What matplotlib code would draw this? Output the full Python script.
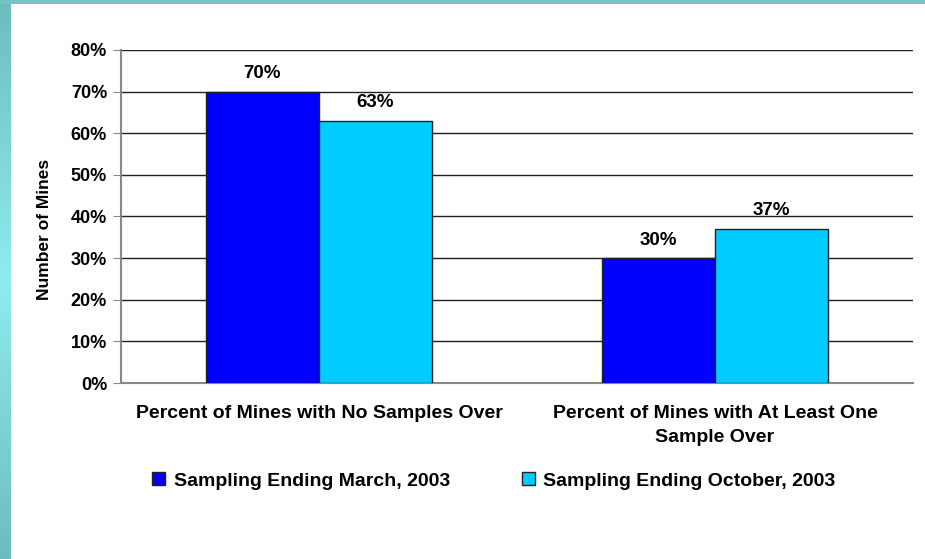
import numpy as np
import matplotlib.pyplot as plt
from matplotlib.ticker import PercentFormatter
from matplotlib.colors import LinearSegmentedColormap

plt.rcParams["font.family"] = ["Liberation Sans", "DejaVu Sans"]
plt.rcParams["font.weight"] = "bold"

categories = ["Percent of Mines with No Samples Over",
              "Percent of Mines with At Least One\nSample Over"]
march = [70, 30]
october = [63, 37]
series_names = ["Sampling Ending March, 2003", "Sampling Ending October, 2003"]

fig = plt.figure(figsize=(9.25, 5.59), dpi=100)
fig.patch.set_facecolor("white")

# teal frame on the left and top edges
grad = np.concatenate([np.linspace(0, 1, 50), np.linspace(1, 0, 50)])[:, None]
cmap = LinearSegmentedColormap.from_list("frame", ["#6dbdbd", "#8eecec"])
strip = fig.add_axes([0, 0, 11 / 925, 1])
strip.imshow(grad, aspect="auto", cmap=cmap, extent=[0, 1, 0, 1])
strip.axis("off")
top = fig.add_axes([0, 1 - 4 / 559, 1, 4 / 559])
top.axis("off")
top.add_patch(plt.Rectangle((0, 0), 1, 1, color="#74c6c6", transform=top.transAxes))

ax = fig.add_axes([121 / 925, 1 - 383 / 559, 792 / 925, 333 / 559])
x = np.arange(len(categories))
w = 1 / 3.5
b1 = ax.bar(x - w / 2, march, w, color="#0000ff", edgecolor="#222222", linewidth=1,
            label=series_names[0], zorder=3)
b2 = ax.bar(x + w / 2, october, w, color="#00ccff", edgecolor="#222222", linewidth=1,
            label=series_names[1], zorder=3)
for bars in (b1, b2):
    for r in bars:
        ax.text(r.get_x() + r.get_width() / 2, r.get_height() + 2.3, f"{r.get_height():.0f}%",
                ha="center", va="bottom", fontsize=13.5, fontweight="bold")

ax.set_xlim(-0.5, 1.5)
ax.set_ylim(0, 80)
ax.set_yticks(range(0, 81, 10))
ax.yaxis.set_major_formatter(PercentFormatter(decimals=0))
ax.grid(axis="y", color="#222222", linewidth=1, zorder=0)
ax.set_xticks(x)
ax.set_xticklabels(categories, fontsize=14, fontweight="bold", linespacing=1.55)
ax.tick_params(axis="x", length=0, pad=16)
ax.tick_params(axis="y", direction="out", length=6, color="#888888", labelsize=13, pad=4)
for s in ["top", "right"]:
    ax.spines[s].set_visible(False)
for s in ["left", "bottom"]:
    ax.spines[s].set_color("#888888")
    ax.spines[s].set_linewidth(1.5)
ax.set_ylabel("Number of Mines", fontsize=12.5, fontweight="bold")
ax.yaxis.set_label_coords(-0.087, 0.46)

fig.legend(handles=[b1, b2], labels=series_names, loc="center", ncol=2, frameon=False,
           bbox_to_anchor=(494 / 925, 1 - 481 / 559), fontsize=14, handlelength=0.65,
           handleheight=0.65, handletextpad=0.45, columnspacing=3.7)

fig.savefig("out.png", dpi=100)
